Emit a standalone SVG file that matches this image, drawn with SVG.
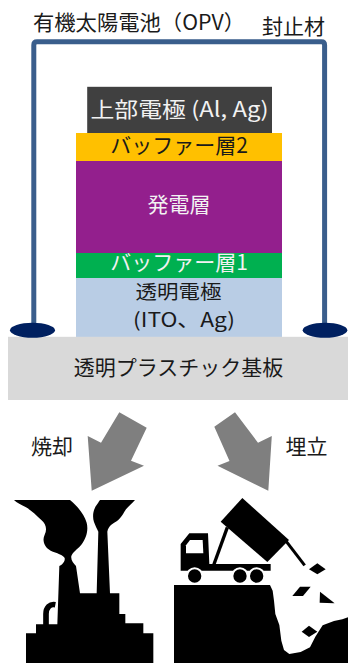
<svg xmlns="http://www.w3.org/2000/svg" width="348" height="663" viewBox="0 0 348 663">
  <style>
    text { font-family: "Noto Sans CJK JP", "Noto Sans", sans-serif; font-size: 21px; text-anchor: middle; }
    .dark { fill: #1a1a1a; }
    .light { fill: #f2f2f2; }
    .small { font-size: 19.5px; }
    .arrow { fill: #7f7f7f; }
    .seal { fill: #002060; }
    .sil { fill: #000; }
  </style>
  <rect width="348" height="663" fill="#fff"/>

  <!-- encapsulation frame -->
  <g id="encapsulant">
    <path d="M33.8,330 V45 Q33.8,41.8 37,41.8 H321.5 Q324.6,41.8 324.6,45 V330" fill="none" stroke="#3a5e8c" stroke-width="5"/>
  </g>

  <g id="title">
    <text class="dark" x="139" y="30" textLength="212" lengthAdjust="spacingAndGlyphs">有機太陽電池（OPV）</text>
  </g>
  <g id="sealant-label">
    <text class="dark" x="293.5" y="33.5">封止材</text>
  </g>

  <!-- layer stack -->
  <g id="top-electrode">
    <rect x="87.2" y="86.8" width="184.8" height="46.2" fill="#404040"/>
    <text class="light" x="179.5" y="117" textLength="178" lengthAdjust="spacingAndGlyphs">上部電極 (Al, Ag)</text>
  </g>
  <g id="buffer2">
    <rect x="76" y="133" width="206" height="28" fill="#ffc000"/>
    <text class="dark" x="179" y="152.5">バッファー層2</text>
  </g>
  <g id="active-layer">
    <rect x="76" y="161" width="206" height="92" fill="#931f8d"/>
    <text class="light" x="179" y="211.5">発電層</text>
  </g>
  <g id="buffer1">
    <rect x="76" y="253" width="206" height="25" fill="#00b050"/>
    <text class="light" x="179" y="270">バッファー層1</text>
  </g>
  <g id="transparent-electrode">
    <rect x="76" y="278" width="206" height="59" fill="#b9cde5"/>
    <text class="dark small" x="178.5" y="298.5" textLength="86" lengthAdjust="spacingAndGlyphs">透明電極</text>
    <text class="dark small" x="184" y="327" textLength="102" lengthAdjust="spacingAndGlyphs">(ITO、Ag)</text>
  </g>
  <g id="substrate">
    <rect x="8" y="336.8" width="340" height="63.2" fill="#d9d9d9"/>
    <text class="dark" x="178.5" y="375">透明プラスチック基板</text>
  </g>
  <g id="seal-left">
    <ellipse class="seal" cx="32.5" cy="330.2" rx="22.5" ry="7.5"/>
  </g>
  <g id="seal-right">
    <ellipse class="seal" cx="325" cy="330.2" rx="22.3" ry="7.5"/>
  </g>

  <!-- disposal routes -->
  <g id="connectors">
    <polygon class="arrow" points="119.3,412.3 146.7,427.7 131,460.7 144,465.7 91.7,490.7 87.7,436 101,442.7"/>
    <polygon class="arrow" points="235,412.3 214.3,426.7 229.5,461 217.5,465.7 268.3,490.7 271.8,436 258,442.7"/>
  </g>
  <g id="incineration-label">
    <text class="dark" x="52" y="453.5">焼却</text>
  </g>
  <g id="landfill-label">
    <text class="dark" x="306.5" y="453.5">埋立</text>
  </g>

  <!-- factory silhouette -->
  <g id="incineration" transform="translate(0 490) scale(0.33333)">
    <path class="sil" d="M78,519 V430 H108 V403 H172 L178,228
      C186,224 196,214 194,204 C190,194 170,190 152,182 C132,172 126,150 134,134
      C142,118 138,102 124,90 C108,76 96,62 78,52 C64,44 50,38 42,30 H210
      C232,48 252,72 260,98 C266,122 258,146 244,164 C232,178 218,186 214,198
      C212,210 220,220 228,228 L240,310 H290 L295,125
      C292,118 286,108 282,96 C276,78 280,56 292,42 C296,36 298,32 300,30 H405
      C396,40 386,48 378,58 C370,70 364,84 350,94 C336,102 326,108 322,125
      L330,310 H358 V372 H376 V400 H430 V430 H460 V519 Z"/>
    <path d="M138,405 V372 C138,352 150,341 166,344" fill="none" stroke="#000" stroke-width="17"/>
  </g>

  <!-- landfill with dump truck -->
  <g id="landfill" transform="translate(174 490) scale(0.33333)">
    <path class="sil" d="M0,285 H288 L296,302 L300,332 L304,372 L316,405 L322,452 L330,480 L346,492 L380,486 L408,472 L424,440 L446,406 L480,393 L505,388 L522,382 V519 H0 Z"/>
    <!-- dump bed and tailgate -->
    <polygon class="sil" points="140,95 205,24 345,150 280,216"/>
    <path d="M335,152 L392,226" stroke="#000" stroke-width="9" fill="none"/>
    <path d="M118,228 L160,112" stroke="#000" stroke-width="10" fill="none"/>
    <!-- cab and chassis -->
    <polygon class="sil" points="20,240 20,162 46,130 102,130 106,222 290,222 290,242 20,242"/>
    <polygon fill="#fff" points="48,150 86,150 88,190 36,190 36,166"/>
    <!-- wheels -->
    <g class="sil" stroke="#fff" stroke-width="6">
      <circle cx="62" cy="258" r="23"/>
      <circle cx="198" cy="258" r="23"/>
      <circle cx="248" cy="258" r="23"/>
    </g>
    <!-- falling debris -->
    <polygon class="sil" points="405,238 430,220 455,238 430,253"/>
    <polygon class="sil" points="355,318 378,290 410,290 387,318"/>
    <polygon class="sil" points="438,305 482,340 437,338"/>
    <polygon class="sil" points="383,425 405,407 430,425 405,441"/>
  </g>
</svg>
